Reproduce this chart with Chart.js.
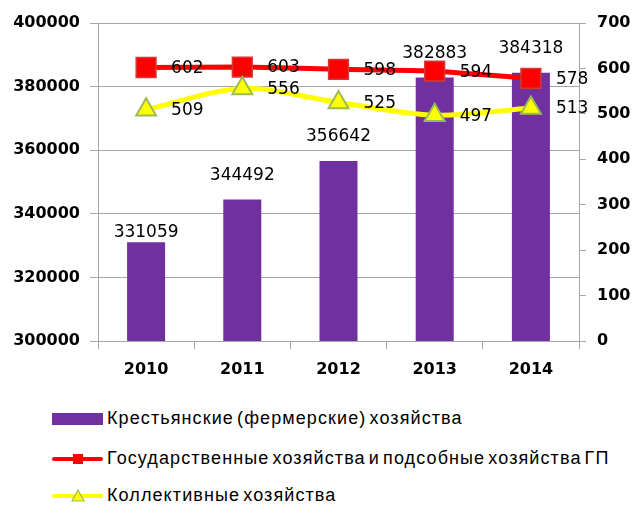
<!DOCTYPE html>
<html>
<head>
<meta charset="utf-8">
<script src="https://cdn.jsdelivr.net/npm/chart.js@4"></script>
<style>
  body { margin: 0; background: #fff; width: 634px; height: 506px; overflow: hidden; position: relative; }
  #chart { position: absolute; left: 0; top: 0; }
  .legend-item { position: absolute; left: 52px; height: 20px; font: 18px "Liberation Sans", Arial, sans-serif; color: #000; white-space: nowrap; letter-spacing: 1.1px; word-spacing: -3px; }
  .legend-item .sw { position: absolute; left: 0; top: 0; width: 51px; height: 20px; }
  .legend-item span.txt { position: absolute; left: 55px; top: -1px; line-height: 20px; }
</style>
</head>
<body>
<canvas id="chart" width="634" height="390"></canvas>
<div id="legend"></div>
<script>
// Данные диаграммы
const years = ['2010', '2011', '2012', '2013', '2014'];
const farmValues = [331059, 344492, 356642, 382883, 384318];
const stateValues = [602, 603, 598, 594, 578];
const collectiveValues = [509, 556, 525, 497, 513];
const seriesNames = [
    'Крестьянские (фермерские) хозяйства',
    'Государственные хозяйства и подсобные хозяйства ГП',
    'Коллективные хозяйства'
];

const gridColor = '#a6a6a6';
const tickFont = { family: 'DejaVu Sans', size: 16, weight: 'bold' };
const plainNumber = v => String(v);

// подписи значений над столбцами и справа от точек
const valueLabels = {
    id: 'valueLabels',
    afterDatasetsDraw(chart) {
        const ctx = chart.ctx;
        ctx.save();
        ctx.font = '17px "DejaVu Sans"';
        ctx.fillStyle = '#000';
        ctx.textBaseline = 'middle';

        ctx.textAlign = 'center';
        chart.getDatasetMeta(0).data.forEach((el, i) => {
            const lift = i === 0 ? 10 : 24;
            ctx.fillText(String(farmValues[i]), el.x, el.y - lift);
        });

        ctx.textAlign = 'left';
        [[1, stateValues], [2, collectiveValues]].forEach(([idx, vals]) => {
            chart.getDatasetMeta(idx).data.forEach((el, i) => {
                ctx.fillText(String(vals[i]), el.x + 25, el.y + 1);
            });
        });
        ctx.restore();
    }
};

new Chart(document.getElementById('chart'), {
    type: 'bar',
    data: {
        labels: years,
        datasets: [
            {
                label: seriesNames[0],
                data: farmValues,
                backgroundColor: '#7030a0',
                yAxisID: 'y',
                categoryPercentage: 1,
                barPercentage: 0.395,
                order: 3
            },
            {
                type: 'line',
                label: seriesNames[1],
                data: stateValues,
                borderColor: '#ff0000',
                borderWidth: 5,
                pointStyle: 'rect',
                pointRadius: 14,
                pointBackgroundColor: '#ff0000',
                pointBorderColor: '#d03a3a',
                pointBorderWidth: 1.5,
                tension: 0.2,
                yAxisID: 'y1',
                order: 2
            },
            {
                type: 'line',
                label: seriesNames[2],
                data: collectiveValues,
                borderColor: '#ffff00',
                borderWidth: 5,
                pointStyle: 'triangle',
                pointRadius: 11.5,
                pointBackgroundColor: '#ffff00',
                pointBorderColor: '#9bbb59',
                pointBorderWidth: 2,
                tension: 0.3,
                yAxisID: 'y1',
                order: 1
            }
        ]
    },
    options: {
        responsive: false,
        animation: false,
        layout: { padding: { top: 23, left: 0, right: 0, bottom: 0 } },
        plugins: {
            legend: { display: false },
            tooltip: { enabled: false }
        },
        scales: {
            x: {
                offset: true,
                afterFit(scale) { scale.height = 49; },
                grid: { offset: true, drawOnChartArea: false, color: gridColor, tickLength: 8 },
                border: { color: gridColor },
                ticks: { color: '#000', font: tickFont, padding: 11, maxRotation: 0 }
            },
            y: {
                position: 'left',
                min: 300000,
                max: 400000,
                afterFit(scale) { scale.width = 98; },
                grid: { color: gridColor, tickLength: 8 },
                border: { color: gridColor },
                ticks: { stepSize: 20000, color: '#000', font: tickFont, padding: 10, callback: plainNumber }
            },
            y1: {
                position: 'right',
                min: 0,
                max: 700,
                afterFit(scale) { scale.width = 55; },
                grid: { drawOnChartArea: false, color: gridColor, tickLength: 7 },
                border: { color: gridColor },
                ticks: { stepSize: 100, color: '#000', font: tickFont, padding: 11, callback: plainNumber }
            }
        }
    },
    plugins: [valueLabels]
});

// легенда под диаграммой
const legendBox = document.getElementById('legend');
const legendTops = [409, 449, 486];
const swatches = [
    '<div class="sw"><div style="position:absolute;left:0;top:4px;width:51px;height:12px;background:#7030a0"></div></div>',
    '<div class="sw"><div style="position:absolute;left:0;top:8px;width:51px;height:4px;background:#ff0000;border-radius:2px"></div>' +
        '<div style="position:absolute;left:21px;top:5px;width:10px;height:10px;background:#ff0000"></div></div>',
    '<div class="sw"><div style="position:absolute;left:0;top:8px;width:51px;height:4px;background:#ffff00;border-radius:2px"></div>' +
        '<svg style="position:absolute;left:19px;top:3px" width="14" height="13"><polygon points="7,1 13,12 1,12" fill="#ffff00" stroke="#9bbb59" stroke-width="1.2"/></svg></div>'
];
seriesNames.forEach((name, i) => {
    const item = document.createElement('div');
    item.className = 'legend-item';
    item.style.top = legendTops[i] + 'px';
    item.innerHTML = swatches[i] + '<span class="txt">' + name + '</span>';
    legendBox.appendChild(item);
});
</script>
</body>
</html>
